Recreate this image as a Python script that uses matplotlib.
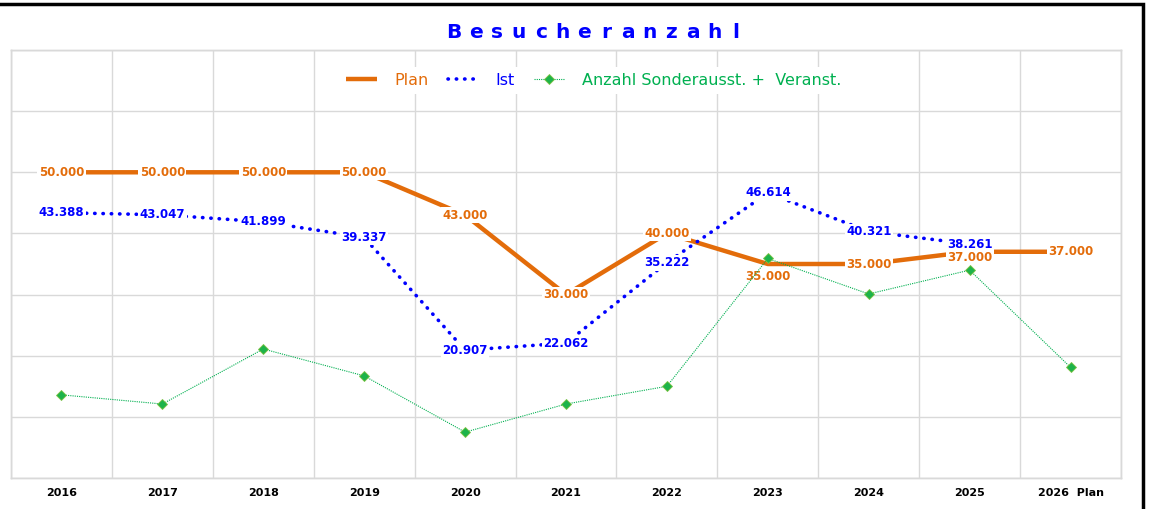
import numpy as np
import matplotlib.pyplot as plt
from matplotlib.patches import Rectangle

# Daten
jahre = ['2016', '2017', '2018', '2019', '2020', '2021', '2022', '2023', '2024', '2025', '2026  Plan']
plan = [50000, 50000, 50000, 50000, 43000, 30000, 40000, 35000, 35000, 37000, 37000]
ist = [43388, 43047, 41899, 39337, 20907, 22062, 35222, 46614, 40321, 38261, np.nan]
sonder = [13.6, 12.1, 21.1, 16.7, 7.5, 12.1, 15.0, 35.9, 30.1, 34.0, 18.1]
titel = 'Besucheranzahl'

c_plan = '#E36C0A'
c_ist = '#0000FF'
c_sonder = '#00B050'

fig = plt.figure(figsize=(11.51, 5.09), dpi=100)
ax = fig.add_axes([11/1151, 1-478/509, 1110/1151, 428/509])
x = np.arange(len(jahre))

def fmt(v):
    return f'{v:,.0f}'.replace(',', '.')

# Sonderausstellungen (zweite Achse, gleiche Skala)
ax2 = ax.twinx()
ax2.plot(x, sonder, color=c_sonder, lw=0.8, ls=(0, (1, 1)), marker='D', ms=5,
         mfc='#1DB34A', mec='#7CC242', mew=0.6, zorder=2,
         label='Anzahl Sonderausst. +  Veranst.')
ax2.set_ylim(0, 70)
ax2.set_yticks([])

# Plan und Ist
ax.plot(x, plan, color=c_plan, lw=3.2, solid_capstyle='butt', zorder=3, label='Plan')
ax.plot(x, ist, color=c_ist, lw=2.6, ls=(0, (0.1, 2.2)), dash_capstyle='round', zorder=3, label='Ist')

bbox = dict(facecolor='white', edgecolor='none', pad=1.0)
for i, v in enumerate(plan):
    dy = 0
    if i == 7:
        dy = -2000
    if i == 9:
        dy = -900
    ax.text(x[i], v + dy, fmt(v), color=c_plan, fontsize=8.5, fontweight='bold',
            ha='center', va='center', bbox=bbox, zorder=4)
for i, v in enumerate(ist):
    if np.isnan(v):
        continue
    ax.text(x[i], v, fmt(v), color=c_ist, fontsize=8.5, fontweight='bold',
            ha='center', va='center', bbox=bbox, zorder=4)

ax.set_xlim(-0.5, len(jahre) - 0.5)
ax.set_ylim(0, 70000)
ax.set_yticks(np.arange(0, 70001, 10000))
ax.set_yticklabels([])
ax.set_xticks(x)
ax.set_xticklabels(jahre, fontsize=8, fontweight='bold')
ax.set_xticks(np.arange(-0.5, len(jahre), 1), minor=True)
ax.tick_params(axis='both', length=0, pad=7)
ax.tick_params(axis='x', which='minor', length=0)
ax.grid(axis='y', color='#D9D9D9', lw=1)
ax.grid(axis='x', which='minor', color='#D9D9D9', lw=1)
ax.grid(axis='x', which='major', visible=False)
ax.set_axisbelow(True)
for sp in list(ax.spines.values()) + list(ax2.spines.values()):
    sp.set_color('#D9D9D9')
    sp.set_linewidth(1)

# Legende
h1, l1 = ax.get_legend_handles_labels()
h2, l2 = ax2.get_legend_handles_labels()
leg = ax2.legend(h1 + h2, l1 + l2, loc='upper center', bbox_to_anchor=(0.525, 0.98),
                 ncol=3, frameon=True, fontsize=11.5, handlelength=1.9, handletextpad=1.1,
                 columnspacing=1.2)
leg.get_frame().set_facecolor('white')
leg.get_frame().set_edgecolor('none')
leg.get_frame().set_alpha(1)
for t, c in zip(leg.get_texts(), [c_plan, c_ist, c_sonder]):
    t.set_color(c)
leg.set_zorder(10)

# Titel mit Sperrschrift
x0, x1 = 443/1151, 747/1151
step = (x1 - x0) / len(titel)
for i, ch in enumerate(titel):
    fig.text(x0 + step * (i + 0.5), 1-33/509, ch, color=c_ist, fontsize=14.5,
             fontweight='bold', ha='center', va='center')

# Rahmen
fig.patches.append(Rectangle((-0.01, -0.02), 1143/1151 + 0.01, 1 - 4/509 + 0.02,
                             transform=fig.transFigure, fill=False, edgecolor='black', lw=2.5))

fig.savefig('out.png', dpi=100)
